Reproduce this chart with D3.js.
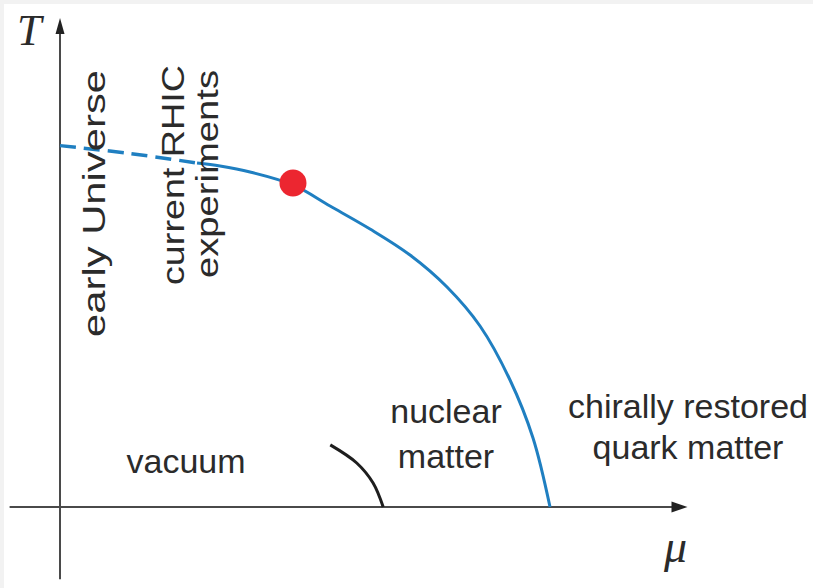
<!DOCTYPE html>
<html>
<head>
<meta charset="utf-8">
<script src="https://cdn.jsdelivr.net/npm/d3@7"></script>
<style>
  html, body { margin: 0; padding: 0; background: #f2f2f2; }
  svg { display: block; }
  .lbl { font-family: "Liberation Sans", Arial, sans-serif; fill: #2b2b2b; }
  .sym { font-family: "Liberation Serif", "Times New Roman", serif; font-style: italic; fill: #2b2b2b; }
</style>
</head>
<body>
<svg id="chart" width="813" height="588"></svg>
<script>
// phase boundary, (mu, T) in arbitrary units 0..100
var crossoverMu = [0, 11.1, 21.75];
var crossoverT  = [73.9, 72.3, 70.35];

var boundaryMu = [21.75, 25.4, 30.16, 36.98, 42.86, 49.21, 55.56, 61.43, 66.67, 71.43, 75.08, 77.78];
var boundaryT  = [70.35, 69.73, 68.51, 65.85, 61.55, 56.85, 51.53, 44.99, 37.01, 25.97, 14.11, 0];

var criticalPoint = [36.98, 66.26];

var nuclearMu = [42.9, 47.1, 49.7, 51.3];
var nuclearT  = [12.7, 9.0, 4.9, 0];

var axisLabels = ["T", "\u03bc"];
var verticalLabels = ["early Universe", "current RHIC", "experiments"];
var regionLabels = [["vacuum"], ["nuclear", "matter"], ["chirally restored", "quark matter"]];

var svg = d3.select("#chart");

// white page with the thin grey border on top / left
svg.append("rect")
  .attr("x", 4).attr("y", 4)
  .attr("width", 809).attr("height", 584)
  .attr("fill", "#fff");

var x = d3.scaleLinear().domain([0, 100]).range([60, 690]),
    y = d3.scaleLinear().domain([0, 100]).range([507, 18]);

var axisColor = "#4a4a4a";

// axes, no ticks
svg.append("line")
  .attr("x1", x(-8)).attr("x2", x(99))
  .attr("y1", y(0)).attr("y2", y(0))
  .attr("stroke", axisColor).attr("stroke-width", 2);

svg.append("line")
  .attr("x1", x(0)).attr("x2", x(0))
  .attr("y1", y(-14.8)).attr("y2", y(97))
  .attr("stroke", axisColor).attr("stroke-width", 2);

// arrow heads
svg.append("path")
  .attr("d", "M" + x(99.6) + "," + y(0) + "l-16,-5.5l0,11z")
  .attr("fill", "#222");
svg.append("path")
  .attr("d", "M" + x(0) + "," + y(100) + "l-4.5,16l9,0z")
  .attr("fill", "#222");

var line = d3.line()
  .x(function(d) { return x(d[0]); })
  .y(function(d) { return y(d[1]); })
  .curve(d3.curveCatmullRom.alpha(0.5));

var blue = "#1f7fc1";

svg.append("path")
  .datum(d3.zip(crossoverMu, crossoverT))
  .attr("d", line)
  .attr("fill", "none")
  .attr("stroke", blue)
  .attr("stroke-width", 3.5)
  .attr("stroke-dasharray", "16,8");

svg.append("path")
  .datum(d3.zip(boundaryMu, boundaryT))
  .attr("d", line)
  .attr("fill", "none")
  .attr("stroke", blue)
  .attr("stroke-width", 3);

svg.append("path")
  .datum(d3.zip(nuclearMu, nuclearT))
  .attr("d", line)
  .attr("fill", "none")
  .attr("stroke", "#1e1e1e")
  .attr("stroke-width", 3);

svg.append("circle")
  .attr("cx", x(criticalPoint[0]))
  .attr("cy", y(criticalPoint[1]))
  .attr("r", 13.5)
  .attr("fill", "#ec2630");

// axis symbols
svg.append("text").attr("class", "sym")
  .attr("x", 17).attr("y", 45)
  .attr("font-size", 44)
  .text(axisLabels[0]);

svg.append("text").attr("class", "sym")
  .attr("x", 664).attr("y", 562)
  .attr("font-size", 46)
  .text(axisLabels[1]);

// rotated labels: baseline x, start y, length
var vPos = [[105, 337, 267], [184, 285, 220], [218, 278, 208]];
svg.selectAll(".vlbl")
  .data(verticalLabels)
  .enter()
    .append("text")
    .attr("class", "lbl vlbl")
    .attr("font-size", 31)
    .attr("transform", function(d, i) {
      return "translate(" + vPos[i][0] + "," + vPos[i][1] + ") rotate(-90)";
    })
    .attr("textLength", function(d, i) { return vPos[i][2]; })
    .attr("lengthAdjust", "spacingAndGlyphs")
    .text(function(d) { return d; });

// region labels: centre x, first baseline, line step
var rPos = [[186, 473, 0], [446, 423, 45], [688, 418, 41]];
regionLabels.forEach(function(lines, i) {
  svg.append("text")
    .attr("class", "lbl")
    .attr("font-size", 34)
    .attr("text-anchor", "middle")
    .selectAll("tspan")
    .data(lines)
    .enter()
      .append("tspan")
      .attr("x", rPos[i][0])
      .attr("y", function(d, j) { return rPos[i][1] + j * rPos[i][2]; })
      .text(function(d) { return d; });
});
</script>
</body>
</html>
